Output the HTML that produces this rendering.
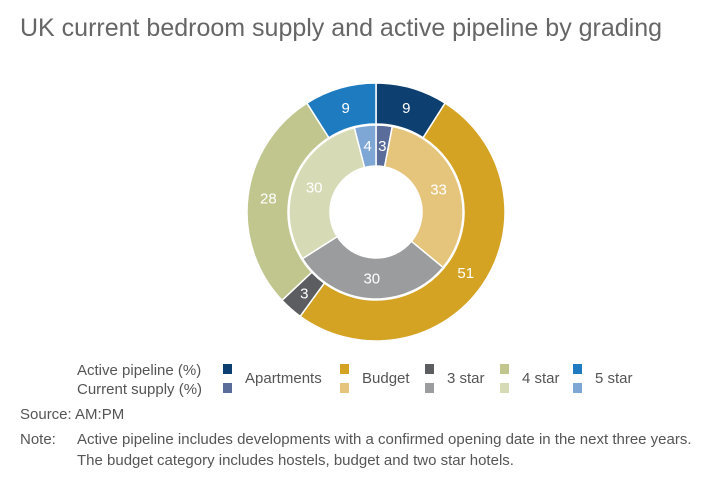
<!DOCTYPE html>
<html><head><meta charset="utf-8"><style>
body{margin:0;background:#fff;width:720px;height:491px;overflow:hidden;font-family:"Liberation Sans Narrow","Liberation Sans",sans-serif;}
svg{position:absolute;left:0;top:0}
</style></head><body>
<svg width="720" height="491">
<text x="20" y="36" font-size="25" fill="#666" font-family="Liberation Sans, sans-serif">UK current bedroom supply and active pipeline by grading</text>
<g id="donut"></g>
<g id="legend"></g>
<text x="20" y="419" font-size="15" fill="#555">Source: AM:PM</text>
<text x="20" y="444" font-size="15" fill="#555">Note:</text>
<text x="77" y="444" font-size="15" fill="#555">Active pipeline includes developments with a confirmed opening date in the next three years.</text>
<text x="77" y="465" font-size="15" fill="#555">The budget category includes hostels, budget and two star hotels.</text>
</svg>
<script>
const categories=["Apartments","Budget","3 star","4 star","5 star"];
const pipelineValues=[9,51,3,28,9];
const supplyValues=[3,33,30,30,4];
const pipelineColors=["#0d3f70","#d4a324","#5b5d60","#c1c58e","#1f7bbf"];
const supplyColors=["#5a6c99","#e5c47c","#9a9c9e","#d7dbb5","#7fa7d6"];
const NS="http://www.w3.org/2000/svg";
const cx=376,cy=212;
const g=document.getElementById('donut');
function pt(r,a){return [cx+r*Math.sin(a),cy-r*Math.cos(a)];}
function ring(vals,colors,r0,r1,nm){
  const tot=vals.reduce((a,b)=>a+b,0);let a=0;
  vals.forEach((v,i)=>{
    const a1=a+v/tot*2*Math.PI;const large=(a1-a)>Math.PI?1:0;
    const p1=pt(r1,a),p2=pt(r1,a1),p3=pt(r0,a1),p4=pt(r0,a);
    const p=document.createElementNS(NS,'path');
    p.setAttribute('d',`M${p1}A${r1},${r1} 0 ${large} 1 ${p2}L${p3}A${r0},${r0} 0 ${large} 0 ${p4}Z`);
    p.setAttribute('fill',colors[i]);p.setAttribute('stroke','#fff');p.setAttribute('stroke-width','1.5');
    
    
    g.appendChild(p);
    const m=pt((r0+r1)/2,(a+a1)/2);
    const t=document.createElementNS(NS,'text');
    t.setAttribute('x',m[0]);t.setAttribute('y',m[1]+5);t.setAttribute('text-anchor','middle');
    t.setAttribute('font-size','15');t.setAttribute('fill','#fff');t.textContent=v;
    
    
    g.appendChild(t);
    a=a1;
  });
}
ring(pipelineValues,pipelineColors,88,129,'pipeline');
ring(supplyValues,supplyColors,46,87,'supply');
const L=document.getElementById('legend');
function txt(x,y,s,nm){const t=document.createElementNS(NS,'text');t.setAttribute('x',x);t.setAttribute('y',y);t.setAttribute('font-size','15');t.setAttribute('fill','#555');t.textContent=s;


L.appendChild(t);}
txt(77,375,"Active pipeline (%)",'legend-pipeline-title');
txt(77,394,"Current supply (%)",'legend-supply-title');
const lx=[223,340,425,500,573];
categories.forEach((c,i)=>{
  [[pipelineColors[i],364],[supplyColors[i],383]].forEach((d,j)=>{
    const r=document.createElementNS(NS,'rect');r.setAttribute('x',lx[i]);r.setAttribute('y',d[1]);r.setAttribute('width',9);r.setAttribute('height',10);r.setAttribute('fill',d[0]);
    
    
    L.appendChild(r);
  });
  txt(lx[i]+22,383,c,'legend-entry-'+c.toLowerCase().replace(' ','-'));
});
</script>
</body></html>
